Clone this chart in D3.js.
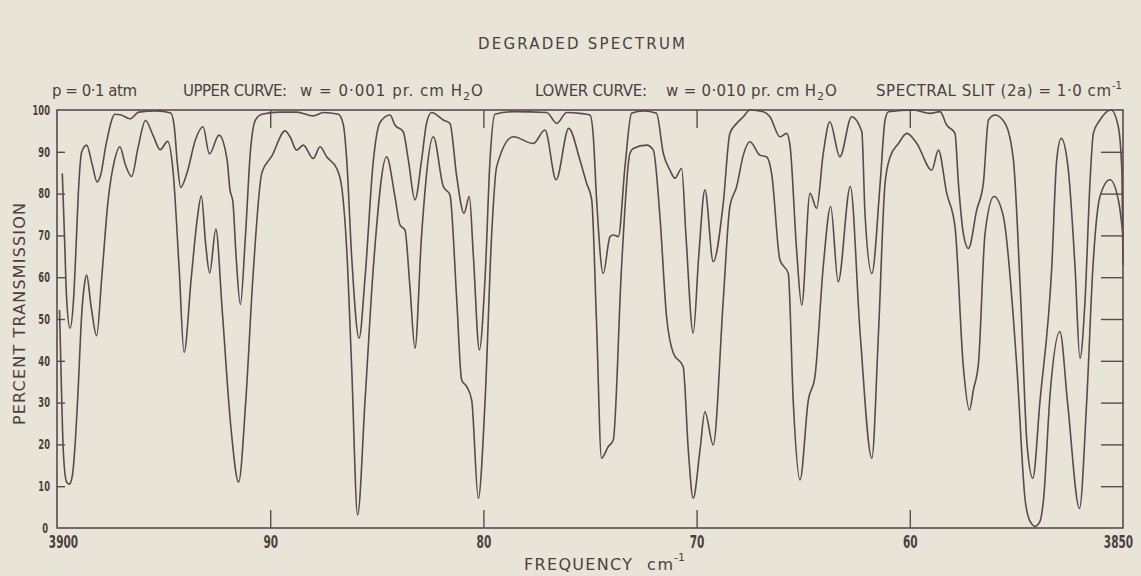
<!DOCTYPE html>
<html><head><meta charset="utf-8">
<script src="https://cdn.jsdelivr.net/npm/d3@7"></script>
<style>
html,body{margin:0;padding:0;background:#e8e5d8;}
svg{display:block;}
</style></head><body>
<svg id="chart" width="1141" height="576"></svg>
<script>
// ---- data (wavenumber cm^-1, percent transmission) ----
const upperFreq = [
3899.75,3899.65,3899.55,3899.39,3899.22,3899.10,3899.00,3898.84,3898.61,3898.35,
3898.12,3897.95,3897.69,3897.28,3896.99,3896.58,3896.16,3895.36,3894.66,3894.50,
3894.35,3894.20,3893.90,3893.50,3893.15,3892.85,3892.40,3892.02,3891.89,3891.75,
3891.60,3891.40,3891.16,3890.93,3890.70,3890.39,3889.54,3888.76,3887.98,3887.51,
3886.80,3886.57,3886.41,3886.18,3885.83,3885.55,3885.16,3884.85,3884.38,3884.15,
3883.76,3883.52,3883.21,3882.90,3882.66,3882.43,3881.88,3881.57,3881.25,3880.91,
3880.66,3880.47,3880.19,3879.92,3879.69,3879.46,3878.60,3877.03,3876.56,3876.09,
3875.47,3875.00,3874.85,3874.69,3874.38,3874.06,3873.91,3873.67,3873.36,3873.05,
3872.50,3871.88,3871.56,3871.25,3871.02,3870.70,3870.50,3870.16,3869.90,3869.61,
3869.22,3868.75,3868.44,3868.12,3867.81,3867.50,3866.87,3866.56,3866.09,3865.78,
3865.62,3865.31,3865.07,3864.68,3864.37,3864.06,3863.75,3863.28,3862.73,3862.25,
3862.10,3861.78,3861.39,3861.16,3861.00,3859.83,3859.05,3858.58,3858.27,3857.88,
3857.72,3857.49,3857.25,3856.86,3856.55,3856.31,3856.00,3855.53,3855.14,3854.80,
3854.50,3854.23,3853.90,3853.34,3853.11,3852.90,3852.58,3852.25,3852.02,3851.78,
3851.55,3851.39,3851.08,3850.56,3850.22,3850.05,3850.00];
const upperT = [
84.7,70,55,47.8,55,68,80,90,91.6,87,
82.8,84.5,92,99,98.8,97.9,99.5,99.8,99.3,96,
87,81.5,85,93,96,89.5,94,88,81,78,
65,53.5,70,90,97.5,99,99.5,99.5,98.6,99.4,
99,96.5,88,65,45.4,60,88,97,98.8,96.4,
94.8,88,78.5,88,97,99.4,97.6,96.8,84,75.3,
79.3,65,42.6,60,88,99,99.6,99.4,96.8,99.4,
99.2,98.8,94,78.5,60.9,69.7,70.1,69.7,86.4,99.2,
99.8,99.2,89.6,85.6,83.7,86,70,46.6,65,80.9,
63.7,77.7,94.4,96.8,98.4,100,99.6,98.4,93.6,94.4,
91.6,66.5,53.3,80.1,76.5,89.6,97.2,88.8,98.4,94.8,
75,60.9,82.5,97.6,99.6,100,99.2,99.6,96.4,94.4,
82.5,70.5,66.9,76.1,82.5,97.6,98.8,96.8,88,55,
20,11.9,30,62.5,88,93.2,86.4,62.5,40.6,54.5,
82.5,94.4,97.6,100,96,85,63];

const lowerFreq = [
3899.88,3899.80,3899.70,3899.55,3899.42,3899.28,3899.15,3899.02,3898.83,3898.72,
3898.61,3898.40,3898.14,3897.90,3897.61,3897.30,3897.05,3896.80,3896.50,3896.20,
3895.85,3895.50,3895.16,3894.81,3894.55,3894.27,3894.04,3893.70,3893.42,3893.23,
3893.03,3892.84,3892.55,3892.25,3891.86,3891.48,3891.15,3890.81,3890.39,3889.92,
3889.30,3889.07,3888.76,3888.45,3887.98,3887.66,3887.35,3886.88,3886.65,3886.41,
3886.18,3885.90,3885.55,3885.16,3884.54,3884.15,3883.91,3883.68,3883.45,3883.21,
3882.90,3882.35,3881.88,3881.57,3881.25,3881.02,3880.78,3880.55,3880.24,3879.92,
3879.61,3879.38,3878.60,3877.66,3877.11,3876.59,3876.00,3875.47,3875.16,3874.92,
3874.70,3874.46,3874.14,3873.91,3873.52,3873.13,3872.97,3872.34,3872.03,3871.72,
3871.41,3871.09,3870.63,3870.39,3870.16,3869.84,3869.61,3869.22,3868.75,3868.44,
3868.12,3867.81,3867.50,3867.03,3866.72,3866.48,3866.09,3865.70,3865.47,3865.15,
3864.76,3864.45,3864.06,3863.71,3863.36,3862.79,3862.33,3861.78,3861.47,3861.16,
3860.92,3860.53,3860.14,3859.67,3858.97,3858.66,3858.27,3857.88,3857.49,3857.20,
3857.02,3856.78,3856.47,3856.05,3855.61,3854.98,3854.59,3854.35,3854.12,3853.90,
3853.73,3853.42,3852.96,3852.60,3852.04,3851.70,3851.41,3851.08,3850.61,3850.20,
3850.00];
const lowerT = [
52,35,18,11,10.5,12.5,20,32,52,58,
60.5,53,46,60,78,88,91.2,87,84.1,91,
97.5,94,90.5,92.5,85,62,42,60,74,79.5,
68,61,71.5,52,25,11,30,60,85,89,
95,93.6,90.4,91.6,88.4,91.2,88.8,86,81.7,66.5,
38.6,3.1,30.6,62.5,88.8,79.3,72.5,71.3,58,43,
70,93.6,81.7,79.7,54.5,35.4,33.8,30.6,7.1,30.6,
70.5,86.4,93.6,92,95.2,83.3,95.6,88,82.5,78.5,
50,16.7,19.5,21,62.5,89.6,90.8,91.6,90.4,74.5,
50.6,41.8,38.6,18.7,7.1,18.7,27.8,19.9,54.5,76.9,
81.7,89.2,92.4,89.2,88.8,84.8,64.1,60.9,30.6,11.5,
30.6,36.2,62.5,76.9,58.9,81.7,46.6,16.7,46.6,82.5,
88.8,92,94.4,92,85.6,90.4,80.1,72.1,38.6,28.2,
33,39.4,70.5,79.3,74.5,38.6,6.7,1.5,0.4,1.5,
6.7,32,47,30,4.7,30.6,62.5,79.3,83.3,78,
70];

const xTickValues = [3900, 3890, 3880, 3870, 3860, 3850];
const xTickLabels = ["3900", "90", "80", "70", "60", "3850"];
const yTickValues = [0, 10, 20, 30, 40, 50, 60, 70, 80, 90, 100];
const yTickLabels = ["0", "10", "20", "30", "40", "50", "60", "70", "80", "90", "100"];

// ---- drawing ----
const W = 1141, H = 576;
const ink = "#5a4a4e";
const textInk = "#4b3f43";
const FONT = "'DejaVu Sans', 'Liberation Sans', sans-serif";
const SQUEEZE = 0.62;
const svg = d3.select("#chart");
svg.append("rect").attr("width", W).attr("height", H).attr("fill", "#e8e5d8");

const x = d3.scaleLinear().domain([3900, 3850]).range([57, 1123]);
const y = d3.scaleLinear().domain([0, 100]).range([528, 110]);

function styleAxis(g) {
  g.select(".domain").remove();
  g.selectAll(".tick line").attr("stroke", ink).attr("stroke-width", 1.4);
  g.selectAll(".tick text").attr("fill", textInk).attr("font-family", FONT);
}

// bottom axis with labels
const gB = svg.append("g").attr("transform", "translate(0,528)")
  .call(d3.axisBottom(x).tickValues(xTickValues)
    .tickFormat((d, i) => xTickLabels[i]).tickSize(-18).tickPadding(0));
styleAxis(gB);
gB.selectAll(".tick text")
  .attr("dy", null).attr("y", null).attr("x", null)
  .attr("font-size", 17).attr("font-weight", "bold")
  .attr("transform", d => `translate(${d === 3900 ? 6 : (d === 3850 ? -5 : 0)},20) scale(${SQUEEZE},1)`);
gB.selectAll(".tick line").filter(d => d === 3900 || d === 3850).remove();

// top axis ticks
const gT = svg.append("g").attr("transform", "translate(0,110)")
  .call(d3.axisTop(x).tickValues(xTickValues.slice(1, -1)).tickSize(-18).tickFormat(""));
styleAxis(gT);

// left axis with labels
const gL = svg.append("g").attr("transform", "translate(57,0)")
  .call(d3.axisLeft(y).tickValues(yTickValues)
    .tickFormat((d, i) => yTickLabels[i]).tickSize(-8).tickPadding(7));
styleAxis(gL);
gL.selectAll(".tick text")
  .attr("x", null)
  .attr("font-size", 13.5).attr("font-weight", "bold")
  .attr("transform", d => `translate(${d === 0 ? -9 : -7},0) scale(${SQUEEZE},1)`);
gL.selectAll(".tick line").filter(d => d === 0 || d === 100).remove();

// right axis ticks
const gR = svg.append("g").attr("transform", "translate(1123,0)")
  .call(d3.axisRight(y).tickValues(yTickValues.slice(1, -1)).tickSize(-22).tickFormat(""));
styleAxis(gR);

// frame
svg.append("rect").attr("x", x(3900)).attr("y", y(100))
  .attr("width", x(3850) - x(3900)).attr("height", y(0) - y(100))
  .attr("fill", "none").attr("stroke", ink).attr("stroke-width", 1.6);

// curves
const line = d3.line().x(d => x(d[0])).y(d => y(d[1])).curve(d3.curveMonotoneX);
[[upperFreq, upperT], [lowerFreq, lowerT]].forEach(([f, t]) => {
  svg.append("path").datum(d3.zip(f, t)).attr("d", line)
    .attr("fill", "none").attr("stroke", ink).attr("stroke-width", 1.6)
    .attr("stroke-linejoin", "round").attr("stroke-linecap", "round");
});

// texts
function txt(s, x0, yb, opts = {}) {
  const t = svg.append("text").attr("x", x0).attr("y", yb)
    .attr("fill", textInk).attr("font-family", FONT)
    .attr("font-size", opts.size || 15).text(s);
  if (opts.len) t.attr("textLength", opts.len).attr("lengthAdjust", opts.adj || "spacing");
  if (opts.anchor) t.attr("text-anchor", opts.anchor);
  return t;
}
txt("DEGRADED  SPECTRUM", 478, 49, {len: 207, size: 15});

txt("p = 0·1 atm", 52, 96, {len: 85});
txt("UPPER CURVE:", 183, 96, {len: 104});
txt("w = 0·001 pr. cm H", 300, 96, {len: 162});
txt("2", 463, 100, {size: 11});
txt("O", 471, 96);
txt("LOWER CURVE:", 535, 96, {len: 112});
txt("w = 0·010 pr. cm H", 666, 96, {len: 150});
txt("2", 817, 100, {size: 11});
txt("O", 825, 96);
txt("SPECTRAL SLIT (2a) = 1·0 cm", 876, 96, {len: 235});
txt("-1", 1112, 89, {size: 10});

// axis titles
svg.append("text").attr("transform", "translate(25,314) rotate(-90)")
  .attr("text-anchor", "middle").attr("fill", textInk).attr("font-family", FONT)
  .attr("font-size", 16).attr("textLength", 222).attr("lengthAdjust", "spacing")
  .text("PERCENT  TRANSMISSION");
txt("FREQUENCY", 524, 570, {len: 108, size: 16});
txt("cm", 647, 570, {len: 26, size: 16});
txt("-1", 674, 561, {size: 11});
</script>
</body></html>
